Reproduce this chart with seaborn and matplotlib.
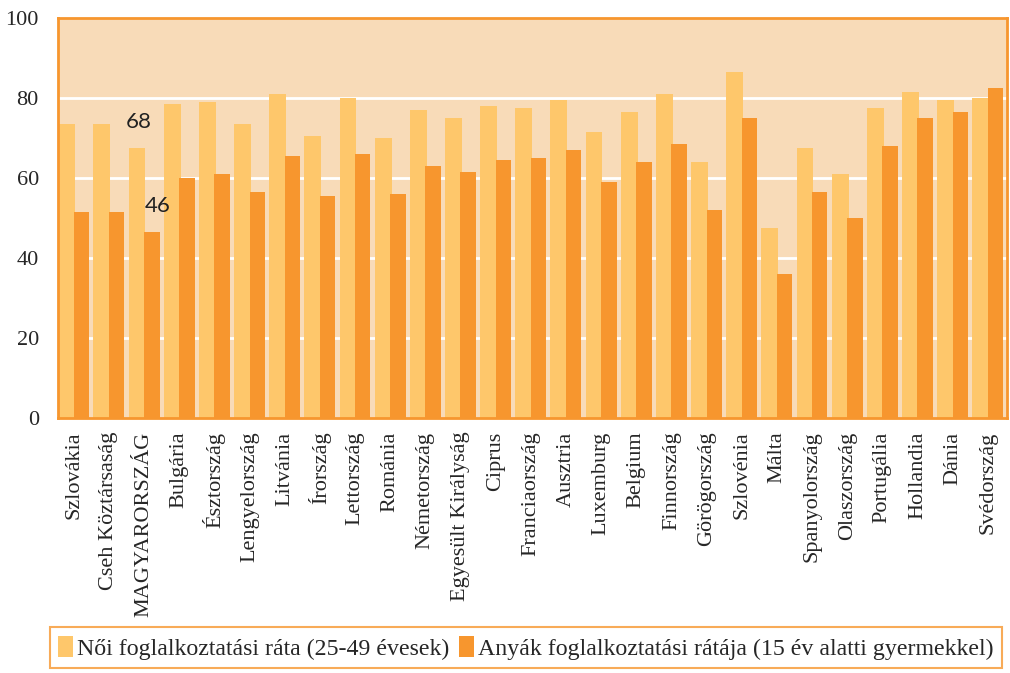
import matplotlib
matplotlib.use("Agg")
import matplotlib.pyplot as plt
import seaborn as sns
import pandas as pd

countries = ["Szlovákia", "Cseh Köztársaság", "MAGYARORSZÁG", "Bulgária", "Észtország",
             "Lengyelország", "Litvánia", "Írország", "Lettország", "Románia",
             "Németország", "Egyesült Királyság", "Ciprus", "Franciaország", "Ausztria",
             "Luxemburg", "Belgium", "Finnország", "Görögország", "Szlovénia",
             "Málta", "Spanyolország", "Olaszország", "Portugália", "Hollandia",
             "Dánia", "Svédország"]
women_rate = [73.5, 73.5, 67.5, 78.5, 79.0, 73.5, 81.0, 70.5, 80.0, 70.0,
              77.0, 75.0, 78.0, 77.5, 79.5, 71.5, 76.5, 81.0, 64.0, 86.5,
              47.5, 67.5, 61.0, 77.5, 81.5, 79.5, 80.0]
mothers_rate = [51.5, 51.5, 46.5, 60.0, 61.0, 56.5, 65.5, 55.5, 66.0, 56.0,
                63.0, 61.5, 64.5, 65.0, 67.0, 59.0, 64.0, 68.5, 52.0, 75.0,
                36.0, 56.5, 50.0, 68.0, 75.0, 76.5, 82.5]
series_names = ["Női foglalkoztatási ráta (25-49 évesek)",
                "Anyák foglalkoztatási rátája (15 év alatti gyermekkel)"]
yticks = [0, 20, 40, 60, 80, 100]
hu_labels = ["68", "46"]

LIGHT = "#FEC76B"
DARK = "#F7962E"
BG = "#F8DBB8"

df = pd.DataFrame({
    "country": countries * 2,
    "value": women_rate + mothers_rate,
    "series": [series_names[0]] * len(countries) + [series_names[1]] * len(countries),
})

sns.set_theme(style="white")
plt.rcParams["font.family"] = ["Liberation Serif", "DejaVu Serif"]

fig = plt.figure(figsize=(10.10, 6.73), dpi=100)
ax = fig.add_axes([0.0577, 0.3793, 0.9393, 0.5944])
ax.set_facecolor(BG)

sns.barplot(data=df, x="country", y="value", hue="series", order=countries,
            hue_order=series_names, palette=[LIGHT, DARK], width=0.88,
            dodge=True, gap=0, saturation=1, legend=False, ax=ax, zorder=3)

# widen the light bars slightly (they sit behind the dark ones)
for p in ax.containers[0]:
    p.set_width(p.get_width() + 0.04)
for c in ax.containers:
    for p in c:
        p.set_edgecolor("none")
        p.set_linewidth(0)
for p in ax.containers[1]:
    p.set_zorder(4)

ax.set_ylim(0, 100)
ax.set_xlim(-0.44, len(countries) - 1 + 0.545)
ax.set_yticks(yticks)
ax.set_yticklabels([str(t) for t in yticks], fontsize=16)
ax.set_xticks(range(len(countries)))
ax.set_xticklabels(countries, rotation=90, fontsize=16, va="top", ha="center")
ax.tick_params(axis="both", length=0)
ax.tick_params(axis="y", pad=14)
ax.tick_params(axis="x", pad=10)
ax.set_xlabel("")
ax.set_ylabel("")

for y in [20, 40, 60, 80]:
    ax.axhline(y, color="white", lw=2, zorder=1)

for s in ax.spines.values():
    s.set_color(DARK)
    s.set_linewidth(2)
    s.set_visible(True)
    s.set_zorder(6)

hu = countries.index("MAGYARORSZÁG")
ax.text(hu - 0.15, 74, hu_labels[0], ha="center", va="center", fontsize=16,
        family=["Lato", "DejaVu Sans"], color="#222222", zorder=7)
ax.text(hu + 0.4, 53, hu_labels[1], ha="center", va="center", fontsize=16,
        family=["Lato", "DejaVu Sans"], color="#222222", zorder=7)

handles = [ax.containers[0][0], ax.containers[1][0]]
leg = fig.legend(handles, series_names, loc="lower left",
                 bbox_to_anchor=(50 / 1010, 5 / 673), ncol=2, fontsize=17.2,
                 frameon=True, fancybox=False, handlelength=0.6, handleheight=1.0,
                 handletextpad=0.2, columnspacing=0.4, borderpad=0.35,
                 borderaxespad=0)
leg.get_frame().set_edgecolor(DARK)
leg.get_frame().set_linewidth(1.5)

fig.savefig("out.png", dpi=100)
